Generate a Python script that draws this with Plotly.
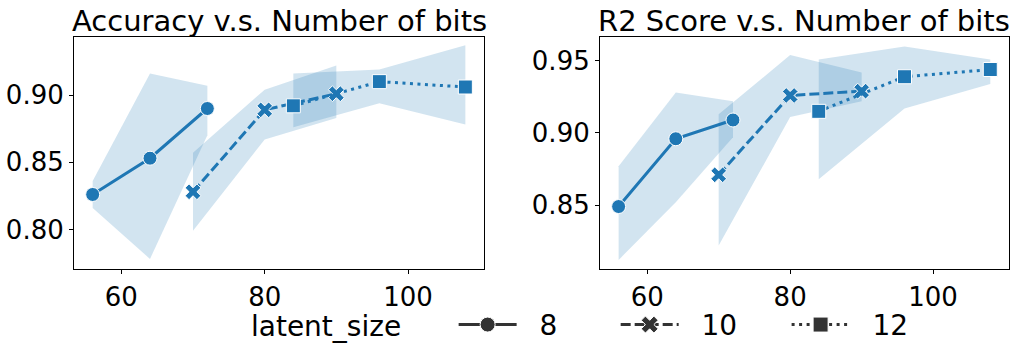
import plotly.graph_objects as go
from plotly.subplots import make_subplots

# latent_size groups
sizes = ["8", "10", "12"]
bits = {
    "8": [56, 64, 72],
    "10": [70, 80, 90],
    "12": [84, 96, 108],
}

acc_mean = {"8": [0.826, 0.853, 0.890], "10": [0.828, 0.889, 0.901], "12": [0.892, 0.910, 0.906]}
acc_low = {"8": [0.816, 0.778, 0.870], "10": [0.799, 0.867, 0.883], "12": [0.876, 0.894, 0.878]}
acc_high = {"8": [0.836, 0.916, 0.907], "10": [0.857, 0.904, 0.922], "12": [0.916, 0.919, 0.937]}

r2_mean = {"8": [0.849, 0.896, 0.909], "10": [0.871, 0.926, 0.929], "12": [0.915, 0.939, 0.944]}
r2_low = {"8": [0.812, 0.852, 0.897], "10": [0.822, 0.911, 0.922], "12": [0.868, 0.917, 0.934]}
r2_high = {"8": [0.877, 0.928, 0.922], "10": [0.913, 0.954, 0.942], "12": [0.951, 0.960, 0.951]}

titles = ["Accuracy v.s. Number of bits", "R2 Score v.s. Number of bits"]
x_ticks = [60, 80, 100]
acc_ticks = [0.80, 0.85, 0.90]
r2_ticks = [0.85, 0.90, 0.95]

dashes = {"8": "solid", "10": "10px,4px", "12": "3px,4.5px"}
symbols = {"8": "circle", "10": "x", "12": "square"}
# spaces around legend labels mimic matplotlib's handle/text and column gaps
legend_names = {"8": "  8      ", "10": "  10     ", "12": "  12"}
blue = "#1f77b4"
band = "rgba(31,119,180,0.2)"
FONT = "DejaVu Sans"

fig = make_subplots(rows=1, cols=2)

panels = [(acc_mean, acc_low, acc_high), (r2_mean, r2_low, r2_high)]
for col, (mean, low, high) in enumerate(panels, start=1):
    for s in sizes:
        x = bits[s]
        fig.add_trace(go.Scatter(
            x=x + x[::-1], y=high[s] + low[s][::-1],
            fill="toself", fillcolor=band, line=dict(width=0),
            mode="lines", hoverinfo="skip", showlegend=False
        ), row=1, col=col)
    for s in sizes:
        fig.add_trace(go.Scatter(
            x=bits[s], y=mean[s], mode="lines+markers",
            line=dict(color=blue, width=3, dash=dashes[s]),
            marker=dict(symbol=symbols[s], size=14, color=blue,
                        line=dict(color="white", width=1)),
            showlegend=False
        ), row=1, col=col)

# legend entries
for s in sizes:
    fig.add_trace(go.Scatter(
        x=[None], y=[None], mode="lines+markers", name=legend_names[s],
        line=dict(color="#333333", width=3, dash=dashes[s]),
        marker=dict(symbol=symbols[s], size=15, color="#333333",
                    line=dict(color="white", width=1)),
    ), row=1, col=1)

axis_common = dict(
    showline=True, mirror=True, linecolor="black", linewidth=1.2,
    ticks="outside", ticklen=4, tickwidth=1, tickcolor="black",
    showgrid=False, zeroline=False, automargin=False,
    tickfont=dict(family=FONT, size=26, color="black"),
)

fig.update_layout(
    width=1017, height=357,
    margin=dict(l=0, r=0, t=0, b=0),
    plot_bgcolor="white", paper_bgcolor="white",
    font=dict(family=FONT, size=26, color="black"),
    xaxis=dict(domain=[0.0728, 0.4759], range=[53.4, 110.6], tickvals=x_ticks, **axis_common),
    xaxis2=dict(domain=[0.59, 0.992], range=[53.4, 110.6], tickvals=x_ticks, **axis_common),
    yaxis=dict(domain=[0.2457, 0.897], range=[0.7703, 0.9434], tickvals=acc_ticks,
               tickformat=".2f", **axis_common),
    yaxis2=dict(domain=[0.2457, 0.897], range=[0.8055, 0.9667], tickvals=r2_ticks,
                tickformat=".2f", **axis_common),
    legend=dict(
        orientation="h", x=0.2448, xanchor="left", y=0.09, yanchor="middle",
        title=dict(text="latent_size     ", font=dict(family=FONT, size=28)),
        font=dict(family=FONT, size=28, color="black"),
        itemwidth=58, bgcolor="rgba(0,0,0,0)",
    ),
    annotations=[
        dict(text=titles[0], x=0.2744, y=0.94, xref="paper", yref="paper",
             xanchor="center", yanchor="middle", showarrow=False,
             font=dict(family=FONT, size=29, color="black")),
        dict(text=titles[1], x=0.791, y=0.94, xref="paper", yref="paper",
             xanchor="center", yanchor="middle", showarrow=False,
             font=dict(family=FONT, size=29, color="black")),
    ],
)

fig.write_html("out.html", config={"displayModeBar": False},
               post_script="document.body.style.margin='0';")
